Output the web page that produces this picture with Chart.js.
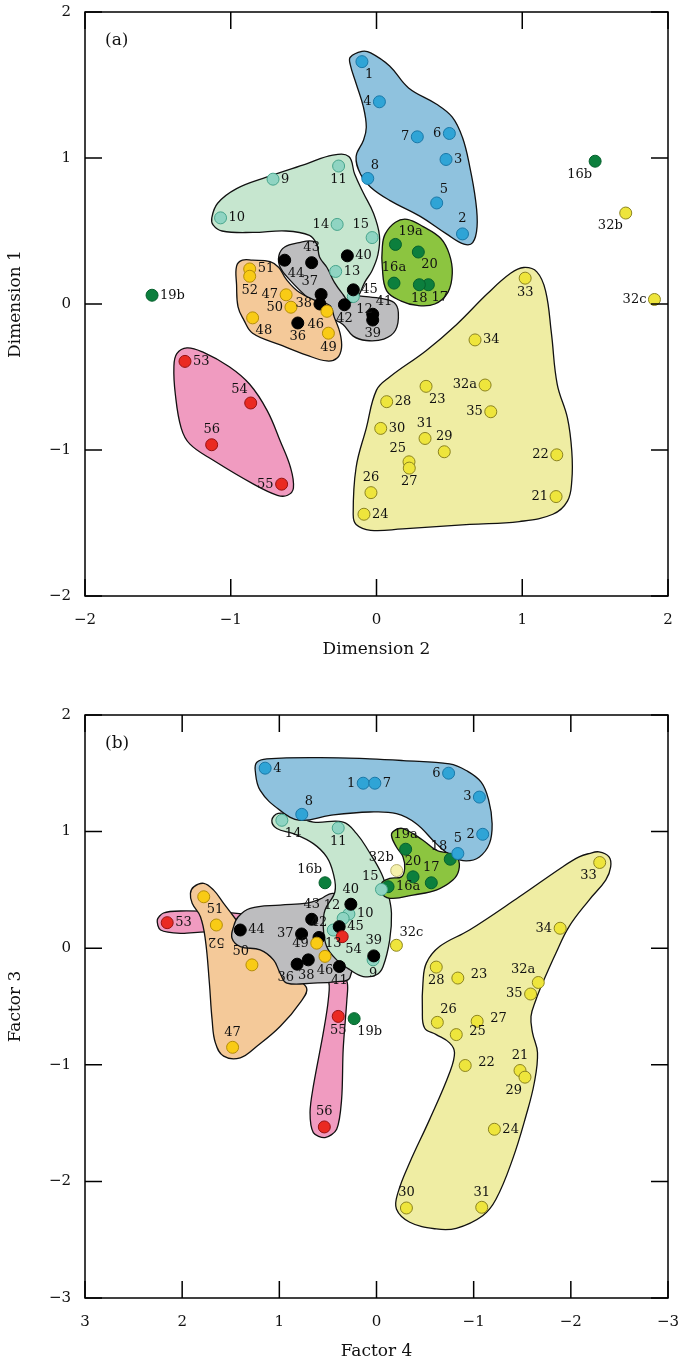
<!DOCTYPE html>
<html><head><meta charset="utf-8">
<script src="https://cdn.jsdelivr.net/npm/chart.js@4.4.1/dist/chart.umd.min.js"></script>
<style>
html,body{margin:0;padding:0;background:#fff;}
canvas{display:block;}
</style></head><body>
<canvas id="chartA" width="678" height="665"></canvas>
<canvas id="chartB" width="678" height="700"></canvas>
<script>
// ---------- Panel (a): [label, Dimension 2, Dimension 1] ----------
const blueA = [['1',-0.10,1.66],['2',0.59,0.48],['3',0.477,0.99],['4',0.02,1.385],['5',0.413,0.692],['6',0.50,1.168],['7',0.28,1.145],['8',-0.06,0.86]];
const tealA = [['9',-0.71,0.855],['10',-1.07,0.59],['11',-0.26,0.945],['12',-0.159,0.051],['13',-0.28,0.223],['14',-0.27,0.545],['15',-0.03,0.455]];
const greenA = [['16a',0.12,0.143],['16b',1.50,0.978],['17',0.356,0.132],['18',0.294,0.132],['19a',0.13,0.408],['19b',-1.54,0.06],['20',0.287,0.356]];
const yellowA = [['21',1.232,-1.319],['22',1.237,-1.033],['23',0.34,-0.564],['24',-0.086,-1.44],['25',0.223,-1.081],['26',-0.038,-1.292],['27',0.225,-1.124],['28',0.07,-0.669],['29',0.465,-1.012],['30',0.029,-0.852],['31',0.333,-0.921],['32a',0.745,-0.555],['32b',1.71,0.623],['32c',1.907,0.031],['33',1.02,0.177],['34',0.676,-0.246],['35',0.784,-0.738]];
const blackA = [['36',-0.54,-0.13],['37',-0.38,0.065],['38',-0.388,0.0],['39',-0.026,-0.11],['40',-0.20,0.33],['41',-0.026,-0.07],['42',-0.22,-0.005],['43',-0.445,0.283],['44',-0.63,0.30],['45',-0.159,0.097]];
const goldA = [['46',-0.34,-0.05],['47',-0.62,0.063],['48',-0.85,-0.095],['49',-0.33,-0.20],['50',-0.587,-0.022],['51',-0.87,0.24],['52',-0.87,0.19]];
const redA = [['53',-1.314,-0.393],['54',-0.863,-0.678],['55',-0.651,-1.234],['56',-1.131,-0.964]];

// region outlines (a)
const blueAOutline = [[-0.18,1.69],[-0.10,1.73],[-0.04,1.72],[0.09,1.63],[0.22,1.48],[0.41,1.37],[0.52,1.28],[0.59,1.14],[0.64,0.94],[0.68,0.71],[0.69,0.53],[0.66,0.42],[0.60,0.41],[0.48,0.48],[0.30,0.60],[0.09,0.71],[-0.04,0.80],[-0.11,0.89],[-0.14,1.01],[-0.09,1.12],[-0.07,1.21],[-0.09,1.35],[-0.14,1.51],[-0.18,1.64]];
const tealAOutline = [[-1.13,0.59],[-1.09,0.69],[-0.96,0.79],[-0.75,0.87],[-0.48,0.96],[-0.30,1.02],[-0.19,1.01],[-0.15,0.89],[-0.09,0.76],[-0.02,0.62],[0.02,0.47],[0.01,0.34],[-0.03,0.23],[-0.08,0.15],[-0.13,0.045],[-0.18,0.01],[-0.23,0.065],[-0.29,0.15],[-0.34,0.25],[-0.39,0.32],[-0.41,0.41],[-0.46,0.47],[-0.62,0.50],[-0.85,0.49],[-1.06,0.50],[-1.12,0.54]];
const greenAOutline = [[0.06,0.48],[0.13,0.56],[0.21,0.58],[0.32,0.53],[0.44,0.45],[0.50,0.34],[0.52,0.21],[0.49,0.08],[0.40,0.00],[0.28,-0.01],[0.17,0.02],[0.07,0.09],[0.04,0.25],[0.04,0.39]];
const grayAOutline = [[-0.67,0.33],[-0.63,0.39],[-0.53,0.42],[-0.44,0.43],[-0.38,0.39],[-0.33,0.30],[-0.27,0.15],[-0.22,0.08],[-0.07,0.05],[0.02,0.04],[0.12,0.01],[0.15,-0.06],[0.13,-0.18],[0.05,-0.24],[-0.07,-0.25],[-0.16,-0.22],[-0.23,-0.14],[-0.32,-0.09],[-0.48,0.05],[-0.59,0.16],[-0.66,0.25]];
const orangeAOutline = [[-0.96,0.26],[-0.92,0.30],[-0.85,0.30],[-0.73,0.29],[-0.67,0.25],[-0.62,0.17],[-0.53,0.08],[-0.41,0.02],[-0.32,-0.01],[-0.29,-0.09],[-0.25,-0.20],[-0.24,-0.30],[-0.27,-0.37],[-0.34,-0.39],[-0.48,-0.35],[-0.66,-0.28],[-0.85,-0.20],[-0.91,-0.11],[-0.95,-0.02],[-0.96,0.13]];
const pinkAOutline = [[-1.37,-0.34],[-1.30,-0.30],[-1.19,-0.33],[-1.01,-0.43],[-0.87,-0.55],[-0.75,-0.73],[-0.66,-0.94],[-0.59,-1.12],[-0.57,-1.26],[-0.61,-1.31],[-0.68,-1.31],[-0.85,-1.23],[-1.12,-1.07],[-1.28,-0.96],[-1.34,-0.85],[-1.38,-0.62],[-1.39,-0.43]];
const yellowAOutline = [[1.01,0.25],[1.10,0.22],[1.16,0.09],[1.20,-0.20],[1.24,-0.55],[1.31,-0.78],[1.34,-1.01],[1.34,-1.21],[1.31,-1.35],[1.21,-1.44],[0.98,-1.49],[0.64,-1.51],[0.18,-1.54],[-0.04,-1.55],[-0.14,-1.51],[-0.16,-1.44],[-0.14,-1.12],[-0.07,-0.85],[0.00,-0.59],[0.09,-0.50],[0.34,-0.32],[0.55,-0.14],[0.76,0.07],[0.92,0.21]];

// ---------- Panel (b): [label, Factor 4, Factor 3] ----------
const blueB = [['1',0.137,1.415],['2',-1.093,0.977],['3',-1.059,1.296],['4',1.146,1.544],['5',-0.837,0.812],['6',-0.742,1.501],['7',0.017,1.415],['8',0.769,1.148]];
const tealB = [['9',0.035,-0.10],['10',0.284,0.293],['11',0.394,1.031],['12',0.343,0.256],['13',0.445,0.156],['14',0.974,1.097],['15',-0.051,0.504]];
const greenB = [['16a',-0.119,0.527],['16b',0.53,0.561],['17',-0.564,0.561],['18',-0.759,0.763],['19a',-0.30,0.849],['19b',0.23,-0.604],['20',-0.376,0.612]];
const yellowB = [['21',-1.477,-1.049],['22',-0.913,-1.006],['23',-0.837,-0.256],['24',-1.213,-1.553],['25',-0.821,-0.741],['26',-0.626,-0.636],['27',-1.036,-0.627],['28',-0.615,-0.162],['29',-1.528,-1.106],['30',-0.308,-2.228],['31',-1.083,-2.222],['32a',-1.665,-0.294],['32c',-0.205,0.025],['33',-2.297,0.735],['34',-1.890,0.171],['35',-1.586,-0.393]];
const paleB = [['32b',-0.208,0.666]];
const blackB = [['36',0.817,-0.137],['37',0.771,0.122],['38',0.702,-0.10],['39',0.028,-0.066],['40',0.264,0.377],['41',0.382,-0.157],['42',0.592,0.092],['43',0.667,0.248],['44',1.402,0.156],['45',0.384,0.185]];
const goldB = [['46',0.530,-0.07],['47',1.481,-0.85],['49',0.615,0.043],['50',1.282,-0.143],['51',1.778,0.441],['52',1.648,0.199]];
const redB = [['53',2.154,0.219],['54',0.353,0.099],['55',0.394,-0.585],['56',0.537,-1.533]];

// region outlines (b)
const blueBOutline = [[1.231,1.595],[1.128,1.624],[0.58,1.635],[0.069,1.624],[-0.273,1.609],[-0.752,1.581],[-0.923,1.524],[-1.077,1.424],[-1.155,1.268],[-1.19,1.068],[-1.162,0.897],[-1.059,0.783],[-0.923,0.749],[-0.786,0.783],[-0.615,0.897],[-0.41,1.068],[-0.205,1.154],[0.069,1.168],[0.479,1.139],[0.787,1.097],[0.992,1.182],[1.197,1.353],[1.248,1.524]];
const tealBOutline = [[1.077,1.097],[1.012,1.156],[0.855,1.139],[0.65,1.082],[0.343,1.082],[0.205,0.983],[0.086,0.84],[-0.051,0.641],[-0.119,0.47],[-0.154,0.299],[-0.136,0.071],[-0.068,-0.157],[0.0,-0.228],[0.137,-0.243],[0.274,-0.185],[0.41,-0.10],[0.513,0.014],[0.548,0.185],[0.53,0.327],[0.428,0.484],[0.445,0.641],[0.513,0.783],[0.65,0.897],[0.855,0.983],[1.026,1.026]];
const greenBOutline = [[-0.154,0.968],[-0.188,1.011],[-0.273,1.026],[-0.478,0.926],[-0.615,0.84],[-0.752,0.812],[-0.837,0.769],[-0.847,0.669],[-0.786,0.584],[-0.615,0.498],[-0.375,0.456],[-0.17,0.427],[-0.068,0.456],[-0.051,0.556],[-0.136,0.598],[-0.256,0.612],[-0.29,0.684],[-0.273,0.783],[-0.205,0.868]];
const grayBOutline = [[1.471,0.185],[1.423,0.27],[1.3,0.342],[0.992,0.37],[0.718,0.387],[0.582,0.421],[0.445,0.47],[0.325,0.37],[0.253,0.071],[0.274,-0.254],[0.428,-0.288],[0.65,-0.299],[0.923,-0.299],[0.992,-0.214],[1.06,-0.10],[1.197,-0.015],[1.402,0.014],[1.487,0.085]];
const orangeBOutline = [[1.915,0.47],[1.881,0.526],[1.778,0.556],[1.676,0.498],[1.573,0.385],[1.443,0.242],[1.248,0.028],[1.128,-0.043],[0.90,-0.22],[0.72,-0.34],[0.78,-0.46],[0.99,-0.67],[1.231,-0.841],[1.402,-0.94],[1.573,-0.926],[1.658,-0.812],[1.692,-0.613],[1.72,-0.299],[1.761,0.071],[1.812,0.27],[1.897,0.385]];
const pinkBOutline = [[2.256,0.242],[2.192,0.302],[2.017,0.319],[1.607,0.31],[1.30,0.285],[0.79,0.20],[0.42,0.02],[0.30,-0.30],[0.305,-0.442],[0.343,-0.869],[0.359,-1.296],[0.41,-1.553],[0.53,-1.624],[0.65,-1.581],[0.684,-1.41],[0.65,-1.183],[0.548,-0.726],[0.496,-0.442],[0.50,-0.27],[0.79,-0.02],[1.30,0.114],[1.751,0.14],[2.017,0.128],[2.222,0.156]];
const yellowBOutline = [[-2.188,0.812],[-2.29,0.826],[-2.393,0.783],[-2.41,0.697],[-2.359,0.584],[-2.188,0.413],[-1.982,0.185],[-1.846,-0.043],[-1.709,-0.299],[-1.641,-0.442],[-1.59,-0.585],[-1.606,-0.726],[-1.657,-0.897],[-1.624,-1.154],[-1.538,-1.439],[-1.401,-1.809],[-1.231,-2.151],[-1.093,-2.294],[-0.821,-2.402],[-0.615,-2.408],[-0.342,-2.35],[-0.205,-2.237],[-0.222,-2.094],[-0.342,-1.838],[-0.547,-1.468],[-0.752,-1.068],[-0.803,-0.897],[-0.752,-0.812],[-0.615,-0.741],[-0.495,-0.684],[-0.472,-0.527],[-0.478,-0.299],[-0.513,-0.128],[-0.649,0.014],[-0.957,0.156],[-1.47,0.441],[-1.914,0.697],[-2.085,0.783]];

// axis ticks
const ticksA_x = [-2,-1,0,1,2];
const ticksA_y = [-2,-1,0,1,2];
const ticksB_x = [-3,-2,-1,0,1,2,3];
const ticksB_y = [-3,-2,-1,0,1,2];

// label placement (style only)
const labelPosA = {'1':'br','2':'a','3':'r','4':'l','5':'ar','6':'l','7':'l','8':'ar','9':'r','10':'r','11':'b','12':'br','13':'r','14':'l','15':'al','16a':'a','16b':'bl','17':'br','18':'b','19a':'ar','19b':'r','20':'br','21':'l','22':'l','23':'br','24':'r','25':'al','26':'a','27':'b','28':'r','29':'a','30':'r','31':'a','32a':'l','32b':'bl','32c':'l','33':'b','34':'r','35':'l','36':'b','37':'al','38':'l','39':'b','40':'r','41':'ar','42':'b','43':'a','44':'br','45':'r','46':'bl','47':'l','48':'br','49':'b','50':'l','51':'r','52':'b','53':'r','54':'al','55':'l','56':'a'};
const labelPosB = {'1':'l','2':'l','3':'l','4':'r','5':'a','6':'l','7':'r','8':'ar','9':'b','10':'r','11':'b','12':'al','13':'b','14':'br','15':'al','16a':'r','16b':'al','17':'a','18':'al','19a':'a','19b':'br','20':'a','21':'a','22':'rr','23':'rr','24':'r','25':'rr','26':'ar','27':'rr','28':'b','29':'bl','30':'a','31':'a','32a':'al','32b':'al','32c':'ar','33':'bl','34':'l','35':'l','36':'bl','37':'l','38':'bs','39':'a','40':'a','41':'b','42':'a','43':'a','44':'r','45':'r','46':'b','47':'a','49':'l','50':'al','51':'br','52':'b180','53':'r','54':'br','55':'b','56':'a'};

// colours
const C = {
  blue:  {fill:'#2fa4d6', stroke:'#1a78a8', region:'#8fc2de'},
  teal:  {fill:'#8fd4c2', stroke:'#47a58c', region:'#c6e6cf'},
  green: {fill:'#0c7f3d', stroke:'#06602d', region:'#8cc540'},
  yellow:{fill:'#eee53c', stroke:'#8c8420', region:'#efeda3'},
  pale:  {fill:'#f5f1ad', stroke:'#b8b070'},
  black: {fill:'#000000', stroke:'#000000', region:'#bdbdbf'},
  gold:  {fill:'#f9cb15', stroke:'#b58d08', region:'#f4c999'},
  red:   {fill:'#ea2a22', stroke:'#981212', region:'#f09bc0'}
};

const FONT = '"DejaVu Serif", "Liberation Serif", serif';

function ptsDS(group, col, order) {
  return {data: group.map(p => ({x: p[1], y: p[2]})), names: group.map(p => p[0]),
    showLine: false, pointRadius: 6, pointHoverRadius: 6, backgroundColor: col.fill,
    borderColor: col.stroke, borderWidth: 1, order: order};
}
function regionDS(outline, fillColor, order, tension) {
  return {data: outline.map(p => ({x: p[0], y: p[1]})), isRegion: true, regionFill: fillColor,
    showLine: true, tension: tension || 0.4, pointRadius: 0, pointHoverRadius: 0,
    borderColor: '#111', borderWidth: 1.3, fill: false, order: order};
}

const loopFill = {
  id: 'loopFill',
  afterDatasetsUpdate(chart) {
    chart.data.datasets.forEach((ds, i) => {
      if (!ds.isRegion) return;
      const line = chart.getDatasetMeta(i).dataset;
      if (!line) return;
      line._loop = true; line._fullLoop = true;
      line._pointsUpdated = false; delete line._segments; line._path = undefined;
    });
  },
  beforeDatasetDraw(chart, args) {
    const ds = chart.data.datasets[args.index];
    if (!ds.isRegion) return;
    const line = args.meta.dataset;
    if (!line) return;
    line.updateControlPoints(chart.chartArea, 'x');
    const ctx = chart.ctx;
    ctx.save();
    ctx.beginPath();
    line.path(ctx);
    ctx.closePath();
    ctx.fillStyle = ds.regionFill;
    ctx.fill();
    ctx.restore();
  }
};

const frame = {
  id: 'frame',
  afterDraw(chart) {
    const {ctx, chartArea: a, scales: {x, y}} = chart;
    ctx.save();
    ctx.strokeStyle = '#000'; ctx.lineWidth = 1.5;
    ctx.strokeRect(a.left, a.top, a.right - a.left, a.bottom - a.top);
    ctx.beginPath();
    x.ticks.forEach(t => { const p = x.getPixelForValue(t.value);
      ctx.moveTo(p, a.bottom); ctx.lineTo(p, a.bottom - 17); ctx.moveTo(p, a.top); ctx.lineTo(p, a.top + 17); });
    y.ticks.forEach(t => { const p = y.getPixelForValue(t.value);
      ctx.moveTo(a.left, p); ctx.lineTo(a.left + 17, p); ctx.moveTo(a.right, p); ctx.lineTo(a.right - 17, p); });
    ctx.stroke();
    ctx.restore();
  }
};

function drawLabel(ctx, t, x, y, a) {
  let tx = x, ty = y, al = 'center';
  switch (a) {
    case 'r': tx = x + 8; al = 'left'; break;
    case 'rr': tx = x + 13; ty = y - 3; al = 'left'; break;
    case 'l': tx = x - 8; al = 'right'; break;
    case 'a': ty = y - 15; break;
    case 'b': ty = y + 14; break;
    case 'bs': tx = x - 2; ty = y + 16; break;
    case 'ar': tx = x + 3; ty = y - 13; al = 'left'; break;
    case 'al': tx = x - 3; ty = y - 13; al = 'right'; break;
    case 'br': tx = x + 3; ty = y + 13; al = 'left'; break;
    case 'bl': tx = x - 3; ty = y + 13; al = 'right'; break;
    case 'b180':
      ctx.save(); ctx.translate(x, y + 16); ctx.rotate(Math.PI);
      ctx.textAlign = 'center'; ctx.fillText(t, 0, 0); ctx.restore(); return;
  }
  ctx.textAlign = al;
  ctx.fillText(t, tx, ty);
}

function labelPlugin(pos, letter) {
  return {
    id: 'ptLabels',
    afterDatasetsDraw(chart) {
      const ctx = chart.ctx;
      ctx.save();
      ctx.fillStyle = '#111';
      ctx.textBaseline = 'middle';
      ctx.font = '13px ' + FONT;
      chart.data.datasets.forEach((ds, i) => {
        if (!ds.names) return;
        chart.getDatasetMeta(i).data.forEach((el, j) => {
          drawLabel(ctx, ds.names[j], el.x, el.y, pos[ds.names[j]] || 'r');
        });
      });
      ctx.font = '17px ' + FONT;
      ctx.textAlign = 'left';
      ctx.fillText(letter, chart.chartArea.left + 20, chart.chartArea.top + 29);
      ctx.restore();
    }
  };
}

const fmt = v => (v < 0 ? '\u2212' + Math.abs(v) : String(v));
const noPad = s => { s.paddingTop = 0; s.paddingBottom = 0; s.paddingLeft = 0; s.paddingRight = 0; };

function makeChart(id, datasets, xr, yr, xTitle, yTitle, reverseX, padTop, xH, titlePadB, pos, letter) {
  return new Chart(document.getElementById(id), {
    type: 'scatter',
    data: {datasets: datasets},
    options: {
      responsive: false, animation: false, devicePixelRatio: 1, events: [],
      layout: {padding: {top: padTop, right: 10, left: 0, bottom: 0}},
      plugins: {legend: {display: false}, tooltip: {enabled: false}},
      scales: {
        x: {type: 'linear', min: xr[0], max: xr[xr.length - 1], reverse: reverseX,
          afterBuildTicks: s => { s.ticks = xr.map(v => ({value: v})); },
          afterFit: s => { s.height = xH; noPad(s); },
          grid: {display: false, drawTicks: false}, border: {display: false},
          ticks: {callback: fmt, color: '#111', padding: 15, font: {family: FONT, size: 15}, maxRotation: 0},
          title: {display: true, text: xTitle, color: '#111', font: {family: FONT, size: 17}, padding: {top: 0, bottom: titlePadB}}},
        y: {type: 'linear', min: yr[0], max: yr[yr.length - 1],
          afterBuildTicks: s => { s.ticks = yr.map(v => ({value: v})); },
          afterFit: s => { s.width = 85; noPad(s); },
          grid: {display: false, drawTicks: false}, border: {display: false},
          ticks: {callback: fmt, color: '#111', padding: 14, font: {family: FONT, size: 15}},
          title: {display: true, text: yTitle, color: '#111', font: {family: FONT, size: 17}, padding: {top: 5, bottom: 0}}}
      }
    },
    plugins: [loopFill, frame, labelPlugin(pos, letter)]
  });
}

const dsA = [
  ptsDS(redA, C.red, 1), ptsDS(goldA, C.gold, 2), ptsDS(blackA, C.black, 3), ptsDS(tealA, C.teal, 4),
  ptsDS(blueA, C.blue, 5), ptsDS(greenA, C.green, 6), ptsDS(yellowA, C.yellow, 7),
  regionDS(yellowAOutline, C.yellow.region, 10), regionDS(greenAOutline, C.green.region, 11),
  regionDS(blueAOutline, C.blue.region, 12), regionDS(pinkAOutline, C.red.region, 13),
  regionDS(tealAOutline, C.teal.region, 14), regionDS(orangeAOutline, C.gold.region, 15),
  regionDS(grayAOutline, C.black.region, 16)
];
const dsB = [
  ptsDS(redB, C.red, 1), ptsDS(goldB, C.gold, 2), ptsDS(blackB, C.black, 3), ptsDS(tealB, C.teal, 4),
  ptsDS(blueB, C.blue, 5), ptsDS(greenB, C.green, 6), ptsDS(yellowB, C.yellow, 7), ptsDS(paleB, C.pale, 8),
  regionDS(yellowBOutline, C.yellow.region, 10), regionDS(greenBOutline, C.green.region, 11),
  regionDS(blueBOutline, C.blue.region, 12), regionDS(tealBOutline, C.teal.region, 13),
  regionDS(grayBOutline, C.black.region, 14), regionDS(orangeBOutline, C.gold.region, 15),
  regionDS(pinkBOutline, C.red.region, 16, 0.3)
];

makeChart('chartA', dsA, ticksA_x, ticksA_y, 'Dimension 2', 'Dimension 1', false, 12, 69, 5, labelPosA, '(a)');
makeChart('chartB', dsB, ticksB_x, ticksB_y, 'Factor 4', 'Factor 3', true, 50, 67, 3, labelPosB, '(b)');
</script></body></html>
